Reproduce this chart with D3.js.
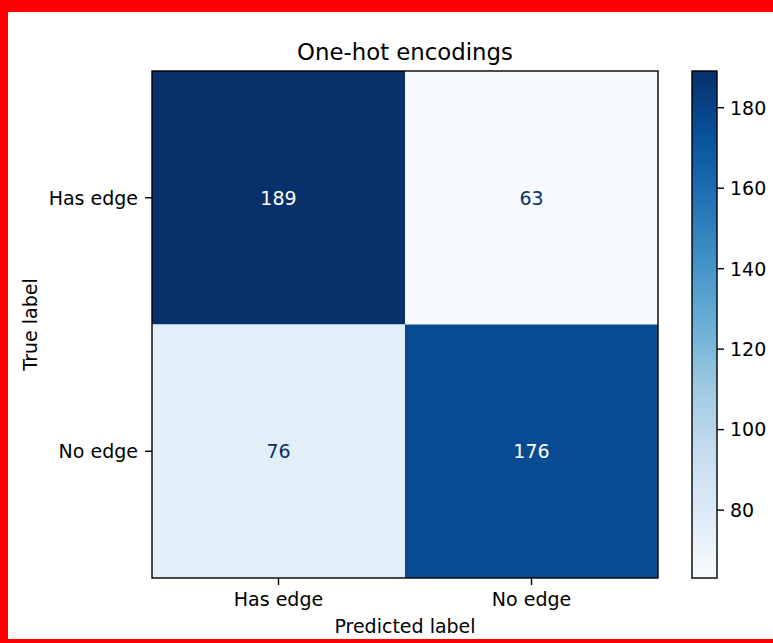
<!DOCTYPE html>
<html>
<head>
<meta charset="utf-8">
<script src="https://cdn.jsdelivr.net/npm/d3@7"></script>
<style>
  body { margin: 0; background: #fff; }
  text { font-family: "DejaVu Sans", sans-serif; fill: #000; }
</style>
</head>
<body>
<div id="chart"></div>
<script>
// confusion matrix values
var categories = ["Has edge", "No edge"];
var hasEdgeRow = [189, 63];
var noEdgeRow = [76, 176];
var colorbarTicks = [80, 100, 120, 140, 160, 180];
// matplotlib "Blues" colour stops
var bluesStops = ["#f7fbff", "#deebf7", "#c6dbef", "#9ecae1", "#6baed6", "#4292c6", "#2171b5", "#08519c", "#08306b"];

var width = 773, height = 643;
var plotLeft = 152, plotRight = 658, plotTop = 71, plotBottom = 578;
var cbLeft = 692, cbRight = 717;
var fontSize = 19;

var rows = [hasEdgeRow, noEdgeRow];
var cells = [];
rows.forEach(function(r, i) {
  r.forEach(function(v, j) {
    cells.push({ row: categories[i], col: categories[j], value: v });
  });
});

var vmin = d3.min(cells, d => d.value);
var vmax = d3.max(cells, d => d.value);

var color = d3.scaleLinear()
  .domain(bluesStops.map((c, i) => vmin + (vmax - vmin) * i / (bluesStops.length - 1)))
  .range(bluesStops)
  .interpolate(d3.interpolateRgb);

var svg = d3.select("#chart").append("svg").attr("width", width).attr("height", height);

var x = d3.scaleBand().domain(categories).range([plotLeft, plotRight]);
var y = d3.scaleBand().domain(categories).range([plotTop, plotBottom]);

// cells
svg.append("g").selectAll("rect")
  .data(cells)
  .enter()
  .append("rect")
  .attr("x", d => x(d.col))
  .attr("y", d => y(d.row))
  .attr("width", x.bandwidth())
  .attr("height", y.bandwidth())
  .attr("fill", d => color(d.value));

var mid = (vmin + vmax) / 2;
svg.append("g").selectAll("text")
  .data(cells)
  .enter()
  .append("text")
  .attr("x", d => x(d.col) + x.bandwidth() / 2)
  .attr("y", d => y(d.row) + y.bandwidth() / 2 + 7)
  .attr("text-anchor", "middle")
  .style("font-size", fontSize + "px")
  .style("fill", d => d.value > mid ? "#ffffff" : bluesStops[bluesStops.length - 1])
  .text(d => d.value);

// axes
var xAxis = svg.append("g")
  .attr("transform", "translate(0," + plotBottom + ")")
  .call(d3.axisBottom(x).tickSize(7).tickPadding(8));
var yAxis = svg.append("g")
  .attr("transform", "translate(" + plotLeft + ",0)")
  .call(d3.axisLeft(y).tickSize(7).tickPadding(7));

[xAxis, yAxis].forEach(function(a) {
  a.select(".domain").remove();
  a.selectAll(".tick line").attr("stroke", "#000").attr("stroke-width", 1.4);
  a.selectAll(".tick text").style("font-size", fontSize + "px").attr("fill", "#000");
});
yAxis.selectAll(".tick text").attr("dy", "0.36em");

svg.append("rect")
  .attr("x", plotLeft).attr("y", plotTop)
  .attr("width", plotRight - plotLeft).attr("height", plotBottom - plotTop)
  .attr("fill", "none").attr("stroke", "#000").attr("stroke-width", 1.4);

// colorbar
var cScale = d3.scaleLinear().domain([vmin, vmax]).range([plotBottom, plotTop]);
var grad = svg.append("defs").append("linearGradient")
  .attr("id", "cbgrad")
  .attr("x1", 0).attr("y1", 1).attr("x2", 0).attr("y2", 0);
grad.selectAll("stop")
  .data(d3.range(0, 1.0001, 0.02))
  .enter()
  .append("stop")
  .attr("offset", d => d)
  .attr("stop-color", d => color(vmin + d * (vmax - vmin)));

svg.append("rect")
  .attr("x", cbLeft).attr("y", plotTop)
  .attr("width", cbRight - cbLeft).attr("height", plotBottom - plotTop)
  .attr("fill", "url(#cbgrad)")
  .attr("stroke", "#000").attr("stroke-width", 1.4);

var cAxis = svg.append("g")
  .attr("transform", "translate(" + cbRight + ",0)")
  .call(d3.axisRight(cScale).tickValues(colorbarTicks).tickSize(7).tickPadding(6));
cAxis.select(".domain").remove();
cAxis.selectAll(".tick line").attr("stroke", "#000").attr("stroke-width", 1.4);
cAxis.selectAll(".tick text").style("font-size", fontSize + "px").attr("fill", "#000").attr("dy", "0.36em");

// titles
svg.append("text")
  .attr("x", (plotLeft + plotRight) / 2).attr("y", 60)
  .attr("text-anchor", "middle")
  .style("font-size", "22.8px")
  .text("One-hot encodings");

svg.append("text")
  .attr("x", (plotLeft + plotRight) / 2).attr("y", 633)
  .attr("text-anchor", "middle")
  .style("font-size", fontSize + "px")
  .text("Predicted label");

svg.append("text")
  .attr("transform", "translate(37," + ((plotTop + plotBottom) / 2) + ") rotate(-90)")
  .attr("text-anchor", "middle")
  .style("font-size", fontSize + "px")
  .text("True label");

// red frame of the screenshot
svg.append("rect").attr("x", 0).attr("y", 0).attr("width", width).attr("height", 12).attr("fill", "#ff0000");
svg.append("rect").attr("x", 0).attr("y", 0).attr("width", 8).attr("height", height).attr("fill", "#ff0000");
svg.append("rect").attr("x", 0).attr("y", 639).attr("width", width).attr("height", 4).attr("fill", "#ff0000");
</script>
</body>
</html>
